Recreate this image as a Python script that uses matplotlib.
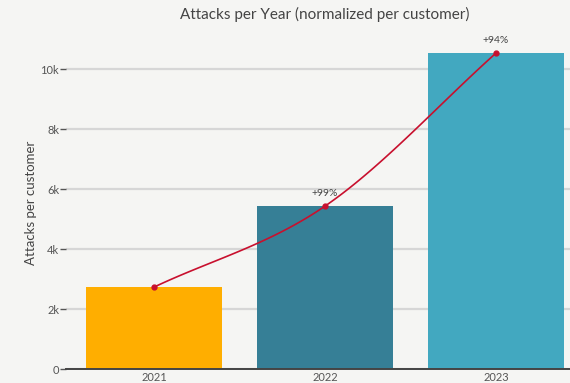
import numpy as np
import matplotlib
matplotlib.use("Agg")
import matplotlib.pyplot as plt

years = ["2021", "2022", "2023"]
attacks = [2730, 5430, 10530]
growth_labels = ["", "+99%", "+94%"]
bar_colors = ["#ffae00", "#367f96", "#42a8c0"]
yticks = [0, 2000, 4000, 6000, 8000, 10000]
ytick_labels = ["0", "2k", "4k", "6k", "8k", "10k"]

plt.rcParams["font.family"] = ["Lato", "DejaVu Sans"]

bg = "#f5f5f3"
fig = plt.figure(figsize=(5.7, 3.83), dpi=100, facecolor=bg)
ax = fig.add_axes([66 / 570, 14 / 383, 504 / 570, 333 / 383], facecolor=bg)

x = np.arange(len(years))
ax.bar(x, attacks, width=0.8, color=bar_colors, zorder=2)


def catmull_rom(px, py, n=60):
    px = np.asarray(px, float)
    py = np.asarray(py, float)
    P = np.column_stack([px, py])
    P = np.vstack([P[0] - (P[1] - P[0]), P, P[-1] + (P[-1] - P[-2])])
    out = []
    for i in range(1, len(P) - 2):
        p0, p1, p2, p3 = P[i - 1], P[i], P[i + 1], P[i + 2]
        t = np.linspace(0, 1, n)[:, None]
        seg = 0.5 * ((2 * p1) + (-p0 + p2) * t + (2 * p0 - 5 * p1 + 4 * p2 - p3) * t ** 2
                     + (-p0 + 3 * p1 - 3 * p2 + p3) * t ** 3)
        out.append(seg)
    out = np.vstack(out)
    return out[:, 0], out[:, 1]


cx, cy = catmull_rom(x, attacks)
ax.plot(cx, cy, color="#c8102e", lw=1.2, zorder=4)
ax.plot(x, attacks, "o", color="#c8102e", ms=3.5, zorder=5)

for xi, yi, lab in zip(x, attacks, growth_labels):
    if lab:
        ax.annotate(lab, (xi, yi), xytext=(0, 6), textcoords="offset points",
                    ha="center", va="bottom", fontsize=7.5, color="#444444")

ax.set_xlim(-0.515, 2.433)
ax.set_ylim(0, 11100)
ax.set_xticks(x)
ax.set_xticklabels(years)
ax.set_yticks(yticks)
ax.set_yticklabels(ytick_labels)

ax.grid(axis="y", color="#d6d6d6", lw=1.6, zorder=0)
for s in ["top", "right", "left"]:
    ax.spines[s].set_visible(False)
ax.spines["bottom"].set_color("#444444")
ax.spines["bottom"].set_linewidth(1.4)
ax.spines["bottom"].set_zorder(3)
ax.tick_params(axis="y", length=4, width=1, color="#555555", labelcolor="#555555",
               labelsize=8, pad=1)
ax.tick_params(axis="x", length=0, labelcolor="#555555", labelsize=8, pad=2)

ax.set_ylabel("Attacks per customer", fontsize=9.5, color="#444444")
ax.yaxis.set_label_coords(-29 / 504, 0.5)
fig.text(325 / 570, 1 - 14 / 383, "Attacks per Year (normalized per customer)",
         ha="center", va="center", fontsize=11, color="#444444")

fig.savefig("out.png", dpi=100, facecolor=bg)
